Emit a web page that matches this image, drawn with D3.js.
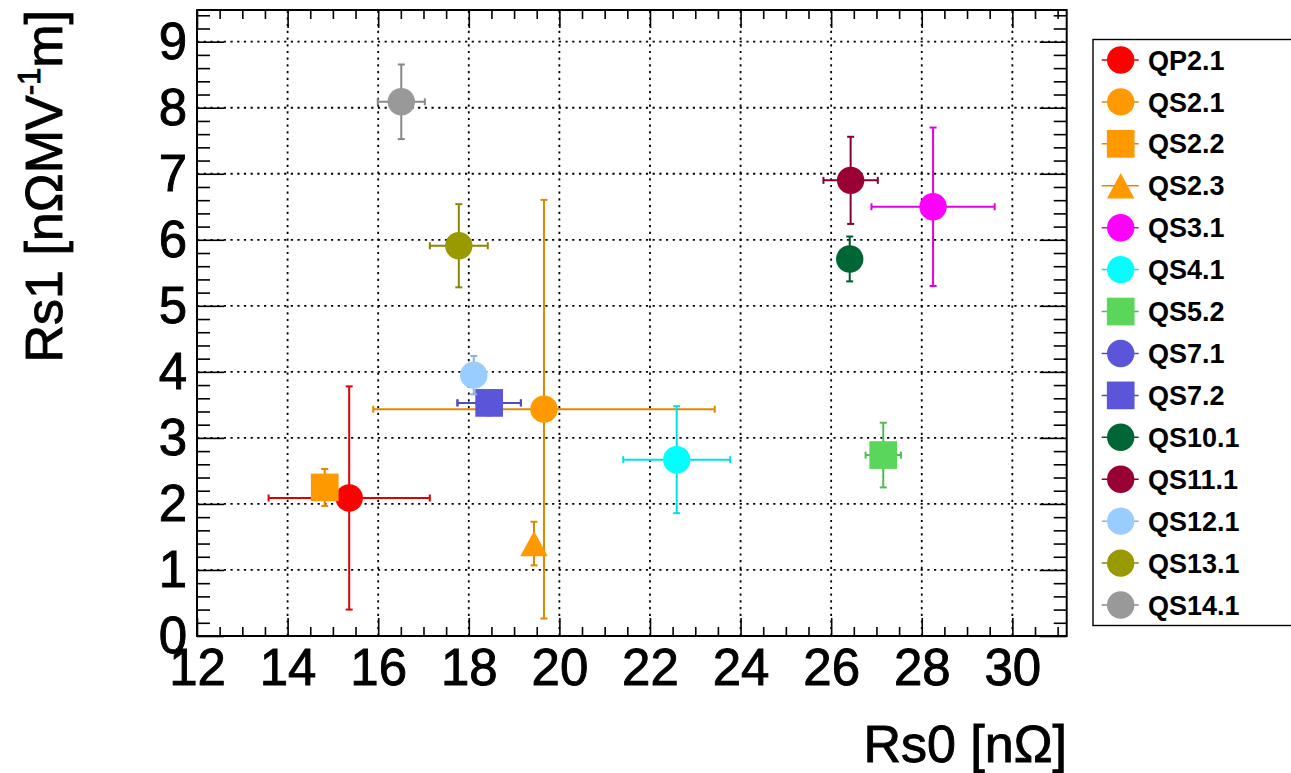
<!DOCTYPE html>
<html>
<head>
<meta charset="utf-8">
<script src="https://cdn.jsdelivr.net/npm/d3@7"></script>
<style>
  body { margin: 0; background: #fff; }
  svg { display: block; font-family: "Liberation Sans", Arial, sans-serif; }
</style>
</head>
<body>
<svg id="chart" width="1291" height="773"></svg>
<script>
// data
const names = ["QP2.1", "QS2.1", "QS2.2", "QS2.3", "QS3.1", "QS4.1", "QS5.2",
               "QS7.1", "QS7.2", "QS10.1", "QS11.1", "QS12.1", "QS13.1", "QS14.1"];
const rs0 = [15.36, 19.66, 14.82, 19.44, 28.25, 22.59, 27.15, 18.45, 18.45, 26.41, 26.43, 18.11, 17.78, 16.51];
const rs1 = [2.09, 3.435, 2.25, 1.40, 6.50, 2.67, 2.74, 3.53, 3.53, 5.71, 6.90, 3.95, 5.91, 8.09];
const rs0Err = [1.78, 3.77, 0, 0, 1.36, 1.18, 0.39, 0.70, 0.70, 0, 0.60, 0, 0.64, 0.52];
const rs1Err = [1.69, 3.17, 0.28, 0.33, 1.20, 0.81, 0.49, 0, 0, 0.34, 0.66, 0.29, 0.63, 0.565];
const shapes = ["circle", "circle", "square", "triangle", "circle", "circle", "square",
                "circle", "square", "circle", "circle", "circle", "circle", "circle"];
const xTicks = [12, 14, 16, 18, 20, 22, 24, 26, 28, 30];
const yTicks = [0, 1, 2, 3, 4, 5, 6, 7, 8, 9];

// series colours
const colors = ["#ff0000", "#ff9900", "#ff9900", "#ff9900", "#ff00ff", "#00ffff", "#5ad65a",
                "#5b55d9", "#5b55d9", "#006633", "#990033", "#99ccff", "#999900", "#999999"];

const points = names.map((n, i) => ({
  name: n, x: rs0[i], y: rs1[i], ex: rs0Err[i], ey: rs1Err[i], shape: shapes[i], color: colors[i]
}));

const svg = d3.select("#chart");
const margin = { left: 197, right: 224.3, top: 10, bottom: 137 };
const width = 1291, height = 773;
const x0 = margin.left, x1 = width - margin.right;
const y0 = height - margin.bottom, y1 = margin.top;

const xScale = d3.scaleLinear().domain([12, 31.2]).range([x0, x1]);
const yScale = d3.scaleLinear().domain([0, 9.48]).range([y0, y1]);

svg.append("rect").attr("width", width).attr("height", height).attr("fill", "#fff");

// Grid
const grid = svg.append("g").attr("stroke", "#000").attr("stroke-width", 1.8)
  .attr("stroke-dasharray", "2.2,4.5");
grid.selectAll(".gx").data(xTicks.filter(d => d > 12)).enter().append("line")
  .attr("x1", d => xScale(d)).attr("x2", d => xScale(d))
  .attr("y1", y0).attr("y2", y1);
grid.selectAll(".gy").data(yTicks.filter(d => d > 0)).enter().append("line")
  .attr("y1", d => yScale(d)).attr("y2", d => yScale(d))
  .attr("x1", x0).attr("x2", x1);

// Axes (ticks pointing inward, mirrored on top/right)
const xMinor = d3.range(12.5, 31.2, 0.5).filter(d => Math.abs(d % 2) > 0.01);
const yMinor = d3.range(0.2, 9.48, 0.2).filter(d => Math.abs(d - Math.round(d)) > 0.01);

function styleAxis(g) {
  g.select(".domain").remove();
  g.selectAll(".tick line").attr("stroke", "#000").attr("stroke-width", 1.6);
}
function styleLabels(sel) {
  sel.attr("font-size", 51).attr("font-family", "Liberation Sans, Arial")
    .attr("fill", "#000").attr("stroke", "#000").attr("stroke-width", 0.9);
}

svg.append("g").attr("transform", `translate(0,${y0})`)
  .call(d3.axisBottom(xScale).tickValues(xTicks).tickSize(-18).tickPadding(13).tickFormat(d => d))
  .call(styleAxis)
  .selectAll("text").call(styleLabels);
svg.append("g").attr("transform", `translate(0,${y0})`)
  .call(d3.axisBottom(xScale).tickValues(xMinor).tickSize(-9).tickFormat(""))
  .call(styleAxis);
svg.append("g").attr("transform", `translate(0,${y1})`)
  .call(d3.axisTop(xScale).tickValues(xTicks).tickSize(-18).tickFormat(""))
  .call(styleAxis);
svg.append("g").attr("transform", `translate(0,${y1})`)
  .call(d3.axisTop(xScale).tickValues(xMinor).tickSize(-9).tickFormat(""))
  .call(styleAxis);

svg.append("g").attr("transform", `translate(${x0},0)`)
  .call(d3.axisLeft(yScale).tickValues(yTicks).tickSize(-27).tickPadding(10).tickFormat(d => d))
  .call(styleAxis)
  .selectAll("text").call(styleLabels);
svg.append("g").attr("transform", `translate(${x0},0)`)
  .call(d3.axisLeft(yScale).tickValues(yMinor).tickSize(-13).tickFormat(""))
  .call(styleAxis);
svg.append("g").attr("transform", `translate(${x1},0)`)
  .call(d3.axisRight(yScale).tickValues(yTicks).tickSize(-27).tickFormat(""))
  .call(styleAxis);
svg.append("g").attr("transform", `translate(${x1},0)`)
  .call(d3.axisRight(yScale).tickValues(yMinor).tickSize(-13).tickFormat(""))
  .call(styleAxis);

// Frame
svg.append("rect").attr("x", x0).attr("y", y1).attr("width", x1 - x0).attr("height", y0 - y1)
  .attr("fill", "none").attr("stroke", "#000").attr("stroke-width", 2);

// Marker shapes
const triangleType = {
  draw(ctx, size) {
    const w = Math.sqrt(size) / 2;
    ctx.moveTo(0, -w * 0.92);
    ctx.lineTo(w, w * 0.92);
    ctx.lineTo(-w, w * 0.92);
    ctx.closePath();
  }
};
const symbolFor = {
  circle: d3.symbol(d3.symbolCircle, Math.PI * 13.7 * 13.7),
  square: d3.symbol(d3.symbolSquare, 27.7 * 27.7),
  triangle: d3.symbol(triangleType, 27.5 * 27.5)
};

// Error bars + markers
const cap = 3.5;
const pts = svg.append("g");
points.forEach(p => {
  const g = pts.append("g");
  const bar = d3.color(p.color).darker(0.35).formatHex();
  const cx = xScale(p.x), cy = yScale(p.y);
  g.attr("stroke", bar).attr("stroke-width", 2);
  if (p.ex > 0) {
    const xl = xScale(p.x - p.ex), xr = xScale(p.x + p.ex);
    g.append("line").attr("x1", xl).attr("x2", xr).attr("y1", cy).attr("y2", cy);
    g.append("line").attr("x1", xl).attr("x2", xl).attr("y1", cy - cap).attr("y2", cy + cap);
    g.append("line").attr("x1", xr).attr("x2", xr).attr("y1", cy - cap).attr("y2", cy + cap);
  }
  if (p.ey > 0) {
    const yt = yScale(p.y + p.ey), yb = yScale(p.y - p.ey);
    g.append("line").attr("x1", cx).attr("x2", cx).attr("y1", yt).attr("y2", yb);
    g.append("line").attr("x1", cx - cap).attr("x2", cx + cap).attr("y1", yt).attr("y2", yt);
    g.append("line").attr("x1", cx - cap).attr("x2", cx + cap).attr("y1", yb).attr("y2", yb);
  }
  g.append("path").attr("d", symbolFor[p.shape]())
    .attr("transform", `translate(${cx},${cy})`)
    .attr("fill", p.color).attr("stroke", "none");
});

// Axis titles
svg.append("text").attr("x", 1067).attr("y", 762).attr("text-anchor", "end")
  .attr("font-size", 52).attr("fill", "#000").attr("stroke", "#000").attr("stroke-width", 0.9)
  .text("Rs0 [n\u03A9]");

const yt = svg.append("text").attr("transform", "translate(62,10) rotate(-90)")
  .attr("text-anchor", "end").attr("font-size", 52).attr("fill", "#000")
  .attr("stroke", "#000").attr("stroke-width", 0.9);
yt.append("tspan").text("Rs1 [n\u03A9MV");
yt.append("tspan").attr("font-size", 31).attr("dy", -22).text("-1");
yt.append("tspan").attr("dy", 22).text("m]");

// Legend
const legend = svg.append("g");
legend.append("rect").attr("x", 1093).attr("y", 39.5).attr("width", 260).attr("height", 586)
  .attr("fill", "#fff").attr("stroke", "#000").attr("stroke-width", 1.4);
const ly = d3.scalePoint().domain(names).range([60, 605]);
const items = legend.selectAll(".item").data(points).enter().append("g")
  .attr("transform", d => `translate(1120.7,${ly(d.name)})`);
items.append("line").attr("x1", -19).attr("x2", 18).attr("y1", 0).attr("y2", 0)
  .attr("stroke", d => d3.color(d.color).darker(0.35).formatHex()).attr("stroke-width", 1.5);
items.append("path").attr("d", d => symbolFor[d.shape]()).attr("fill", d => d.color);
items.append("text").attr("x", 27.3).attr("y", 9.6).attr("font-size", 27).attr("font-weight", "bold")
  .attr("fill", "#000").text(d => d.name);
</script>
</body>
</html>
